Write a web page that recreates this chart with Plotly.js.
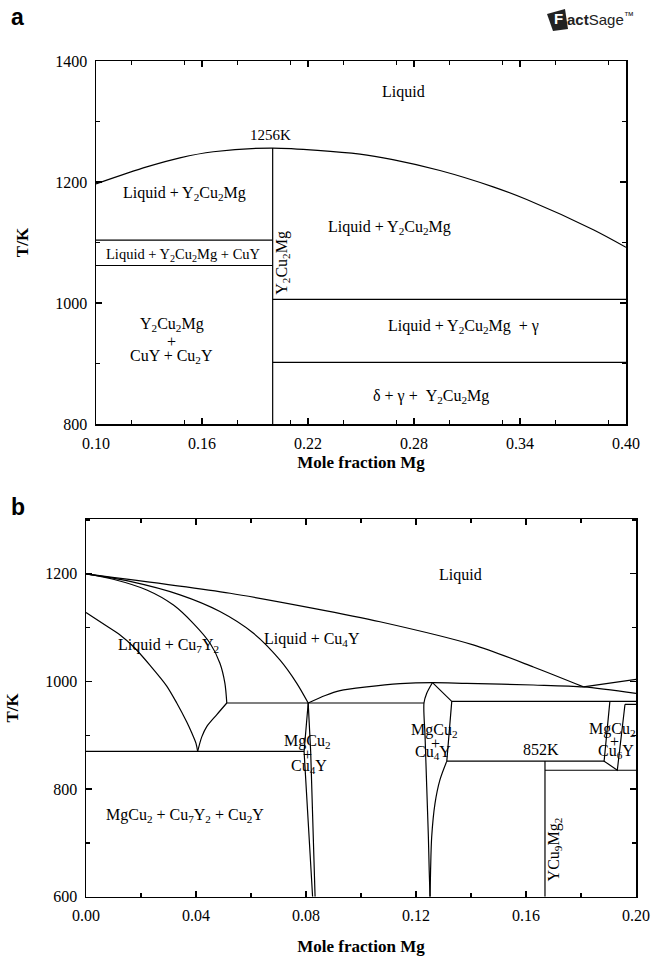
<!DOCTYPE html>
<html>
<head>
<meta charset="utf-8">
<script src="https://cdn.plot.ly/plotly-3.0.1.min.js"></script>
<style>
  html, body { margin: 0; padding: 0; background: #fff; }
  #chart { width: 656px; height: 960px; }
</style>
</head>
<body>
<div id="chart"></div>
<script>
// ---------- Panel a: section through Y2Cu2Mg, x(Mg) 0.10 – 0.40 ----------
const aLiquidusX = [0.10, 0.1287, 0.1475, 0.1664, 0.20, 0.2494, 0.268, 0.2947, 0.3248, 0.3438, 0.3815, 0.40];
const aLiquidusT = [1197, 1225, 1240, 1250, 1256, 1246, 1237, 1219, 1192, 1171, 1121, 1092];
// isotherms left of the compound (x 0.10 – 0.20)
const aLeftIsoT = [1104, 1062];
const aLeftIsoX = [0.10, 0.20];
// isotherms right of the compound (x 0.20 – 0.40)
const aRightIsoT = [1006, 902];
const aRightIsoX = [0.20, 0.40];
// Y2Cu2Mg line compound
const aCompoundX = 0.20;
const aCompoundT = [800, 1256];

// ---------- Panel b: Cu-rich side, x(Mg) 0 – 0.20 ----------
const bLiquidusX = [0, 0.0524, 0.0827, 0.1069, 0.1408, 0.1627, 0.1809];
const bLiquidusT = [1200, 1164, 1136, 1111, 1068, 1027, 990];
const bMgCu2LiqX = [0.0808, 0.0870, 0.0924, 0.1021, 0.1142, 0.126, 0.1384, 0.1627, 0.1809, 0.20];
const bMgCu2LiqT = [960, 974, 983, 990, 996, 998, 996.5, 993.5, 990, 978];
const bCu6YLiqX = [0.1809, 0.20];
const bCu6YLiqT = [990, 1004];
const bCu7Y2UpperX = [0, 0.0099, 0.0221, 0.0318, 0.039, 0.0451, 0.0487, 0.0505, 0.0512];
const bCu7Y2UpperT = [1200, 1190, 1170, 1142, 1108, 1071, 1034, 997, 960];
const bCu4YLowerX = [0, 0.016, 0.0342, 0.0487, 0.0608, 0.0705, 0.0766, 0.0808];
const bCu4YLowerT = [1200, 1186, 1161, 1130, 1090, 1040, 997, 960];
const bCu7Y2LowerX = [0, 0.0075, 0.0125, 0.0172, 0.0233, 0.0293, 0.033, 0.0366, 0.0384, 0.040, 0.0406];
const bCu7Y2LowerT = [1128, 1103, 1086, 1065, 1030, 992, 960, 925, 905, 885, 870];
const bEutRiseX = [0.0406, 0.0421, 0.0439, 0.0475, 0.0512];
const bEutRiseT = [870, 897, 916, 938, 960];
// isotherms: temperature, left end, right end
const bIsoT  = [960, 870, 963, 852, 835, 957.6];
const bIsoX0 = [0.0512, 0, 0.133, 0.1312, 0.1669, 0.196];
const bIsoX1 = [0.1229, 0.0793, 0.20, 0.1884, 0.20, 0.20];
// MgCu2 solid solution near x = 0.08
const bPh08LeftX  = [0.0808, 0.0793, 0.0824];
const bPh08RightX = [0.0808, 0.0817, 0.0833];
const bPh08T      = [960, 870, 600];
// MgCu2 dome near x = 0.125
const bPh125LeftX  = [0.126, 0.1239, 0.1229, 0.1233, 0.1239, 0.1245, 0.1248, 0.1251];
const bPh125LeftT  = [998, 978, 960, 897, 804, 711, 649, 600];
const bPh125TopX   = [0.126, 0.133, 0.1312];
const bPh125TopT   = [998, 963, 852];
const bPh125LowX   = [0.1312, 0.1287, 0.1269, 0.1257, 0.1253, 0.1251];
const bPh125LowT   = [852, 817, 773, 711, 649, 600];
// YCu9Mg2 line compound
const bCompoundX = 0.1669;
const bCompoundT = [600, 852];
// MgCu2 + Cu6Y sliver near x = 0.19
const bPh19X = [0.1905, 0.1884, 0.1932, 0.196];
const bPh19T = [963, 852, 835, 957.6];

// ---------- helpers ----------
const INK = '#000';
const SERIF = 'Liberation Serif, Times New Roman, serif';
const SANS = 'Liberation Sans, Arial, sans-serif';

function path(xs, ts, ax, smooth) {
  const line = { color: INK, width: 1.2 };
  if (smooth) { line.shape = 'spline'; line.smoothing = 0.8; }
  return { type: 'scatter', mode: 'lines', x: xs, y: ts, xaxis: ax[0], yaxis: ax[1],
           line: line, hoverinfo: 'skip', showlegend: false };
}
const A = ['x', 'y'];
const B = ['x2', 'y2'];

const traces = [];
// panel a
traces.push(path(aLiquidusX, aLiquidusT, A, true));
aLeftIsoT.forEach(t => traces.push(path(aLeftIsoX, [t, t], A)));
aRightIsoT.forEach(t => traces.push(path(aRightIsoX, [t, t], A)));
traces.push(path([aCompoundX, aCompoundX], aCompoundT, A));
// panel b
traces.push(path(bLiquidusX, bLiquidusT, B, true));
traces.push(path(bMgCu2LiqX, bMgCu2LiqT, B, true));
traces.push(path(bCu6YLiqX, bCu6YLiqT, B));
traces.push(path(bCu7Y2UpperX, bCu7Y2UpperT, B, true));
traces.push(path(bCu4YLowerX, bCu4YLowerT, B, true));
traces.push(path(bCu7Y2LowerX, bCu7Y2LowerT, B, true));
traces.push(path(bEutRiseX, bEutRiseT, B, true));
bIsoT.forEach((t, i) => traces.push(path([bIsoX0[i], bIsoX1[i]], [t, t], B)));
traces.push(path(bPh08LeftX, bPh08T, B));
traces.push(path(bPh08RightX, bPh08T, B));
traces.push(path(bPh125LeftX, bPh125LeftT, B, true));
traces.push(path(bPh125TopX, bPh125TopT, B));
traces.push(path(bPh125LowX, bPh125LowT, B, true));
traces.push(path([bCompoundX, bCompoundX], bCompoundT, B));
traces.push(path(bPh19X, bPh19T, B));

// ---------- phase-field labels ----------
// [text, x, T, fontSize, angle]
const aLabels = [
  ['Liquid', 0.2738, 1349, 16, 0],
  ['1256K', 0.1985, 1277, 15, 0],
  ['Liquid + Y<sub>2</sub>Cu<sub>2</sub>Mg', 0.150, 1181, 16, 0],
  ['Liquid + Y<sub>2</sub>Cu<sub>2</sub>Mg + CuY', 0.1494, 1079, 14.5, 0],
  ['Y<sub>2</sub>Cu<sub>2</sub>Mg', 0.2051, 1066, 16, -90],
  ['Liquid + Y<sub>2</sub>Cu<sub>2</sub>Mg', 0.2664, 1124, 16, 0],
  ['Liquid + Y<sub>2</sub>Cu<sub>2</sub>Mg  + γ', 0.308, 961, 16, 0],
  ['δ + γ +  Y<sub>2</sub>Cu<sub>2</sub>Mg', 0.2895, 845, 16, 0],
  ['Y<sub>2</sub>Cu<sub>2</sub>Mg', 0.1428, 964, 16, 0],
  ['+', 0.1428, 936, 16, 0],
  ['CuY + Cu<sub>2</sub>Y', 0.1428, 911, 16, 0]
];
const bLabels = [
  ['Liquid', 0.136, 1197, 16, 0],
  ['Liquid + Cu<sub>7</sub>Y<sub>2</sub>', 0.0299, 1067, 16, 0],
  ['Liquid + Cu<sub>4</sub>Y', 0.0821, 1078, 16, 0],
  ['MgCu<sub>2</sub>', 0.0805, 889, 16, 0],
  ['+', 0.0805, 864, 16, 0],
  ['Cu<sub>4</sub>Y', 0.0810, 842, 16, 0],
  ['MgCu<sub>2</sub>', 0.1269, 909, 16, 0],
  ['+', 0.1270, 885, 16, 0],
  ['Cu<sub>4</sub>Y', 0.1263, 868, 16, 0],
  ['852K', 0.1653, 874, 16, 0],
  ['MgCu<sub>2</sub>', 0.1916, 910, 16, 0],
  ['+', 0.1920, 888, 16, 0],
  ['Cu<sub>6</sub>Y', 0.1927, 869, 16, 0],
  ['MgCu<sub>2</sub> + Cu<sub>7</sub>Y<sub>2</sub> + Cu<sub>2</sub>Y', 0.036, 750, 16, 0],
  ['YCu<sub>9</sub>Mg<sub>2</sub>', 0.1702, 688, 16, -90]
];

function labelAnn(l, ax) {
  return { text: l[0], x: l[1], y: l[2], xref: ax[0], yref: ax[1], showarrow: false,
           xanchor: 'center', yanchor: 'middle', textangle: l[4],
           font: { family: SERIF, size: l[3], color: INK } };
}
const annotations = aLabels.map(l => labelAnn(l, A)).concat(bLabels.map(l => labelAnn(l, B)));

// panel letters
const W = 656, H = 960;
function px(xp) { return xp / W; }
function py(yp) { return 1 - yp / H; }
annotations.push({ text: '<b>a</b>', xref: 'paper', yref: 'paper', x: px(9), y: py(17), xanchor: 'left', yanchor: 'middle',
                   showarrow: false, font: { family: SANS, size: 23, color: INK } });
annotations.push({ text: '<b>b</b>', xref: 'paper', yref: 'paper', x: px(9), y: py(507), xanchor: 'left', yanchor: 'middle',
                   showarrow: false, font: { family: SANS, size: 23, color: INK } });
// FactSage logotype
annotations.push({ text: '<b>F</b>', xref: 'paper', yref: 'paper', x: px(558), y: py(19), xanchor: 'center', yanchor: 'middle',
                   showarrow: false, font: { family: SANS, size: 15, color: '#fff' } });
annotations.push({ text: '<b>act</b>Sage<sup>™</sup>', xref: 'paper', yref: 'paper', x: px(565), y: py(19), xanchor: 'left', yanchor: 'middle',
                   showarrow: false, font: { family: 'Liberation Sans Narrow, ' + SANS, size: 15, color: '#222' } });
const shapes = [{
  type: 'path', xref: 'paper', yref: 'paper', line: { width: 0 }, fillcolor: '#222',
  path: 'M ' + px(547) + ' ' + py(14) + ' L ' + px(565) + ' ' + py(9) + ' L ' + px(568) + ' ' + py(29) +
        ' L ' + px(553) + ' ' + py(31) + ' Z'
}];

// ---------- axes ----------
const tickFont = { family: SERIF, size: 16, color: INK };
const titleFont = { family: SERIF, size: 17, color: INK, weight: 'bold' };
function axis(extra) {
  return Object.assign({
    showline: true, linecolor: INK, linewidth: 1.5, mirror: 'ticks',
    ticks: 'inside', ticklen: 6, tickwidth: 1.2, tickcolor: INK,
    showgrid: false, zeroline: false, tickfont: tickFont, ticklabelstandoff: 4,
    fixedrange: true
  }, extra);
}

const layout = {
  width: W, height: H,
  margin: { l: 0, r: 0, t: 0, b: 0 },
  paper_bgcolor: '#fff', plot_bgcolor: '#fff',
  showlegend: false,
  xaxis: axis({
    domain: [96 / W, 626 / W], anchor: 'y', range: [0.10, 0.40], tick0: 0.10, dtick: 0.06, tickformat: '.2f',
    minor: { dtick: 0.03, ticks: 'inside', ticklen: 4, tickwidth: 1.2, tickcolor: INK },
    title: { text: 'Mole fraction Mg', font: titleFont, standoff: 5 }
  }),
  yaxis: axis({
    domain: [1 - 424 / H, 1 - 61 / H], anchor: 'x', range: [800, 1400], tick0: 800, dtick: 200,
    minor: { dtick: 100, ticks: 'inside', ticklen: 4, tickwidth: 1.2, tickcolor: INK },
    title: { text: 'T/K', font: titleFont, standoff: 22 }
  }),
  xaxis2: axis({
    domain: [86 / W, 636 / W], anchor: 'y2', range: [0, 0.20], tick0: 0, dtick: 0.04, tickformat: '.2f',
    minor: { dtick: 0.02, ticks: 'inside', ticklen: 4, tickwidth: 1.2, tickcolor: INK },
    title: { text: 'Mole fraction Mg', font: titleFont, standoff: 16 }
  }),
  yaxis2: axis({
    domain: [1 - 896.7 / H, 1 - 519 / H], anchor: 'x2', range: [600, 1302], tick0: 600, dtick: 200,
    minor: { dtick: 100, ticks: 'inside', ticklen: 4, tickwidth: 1.2, tickcolor: INK },
    title: { text: 'T/K', font: titleFont, standoff: 22 }
  }),
  annotations: annotations,
  shapes: shapes
};

Plotly.newPlot('chart', traces, layout, { staticPlot: true, displayModeBar: false });
</script>
</body>
</html>
